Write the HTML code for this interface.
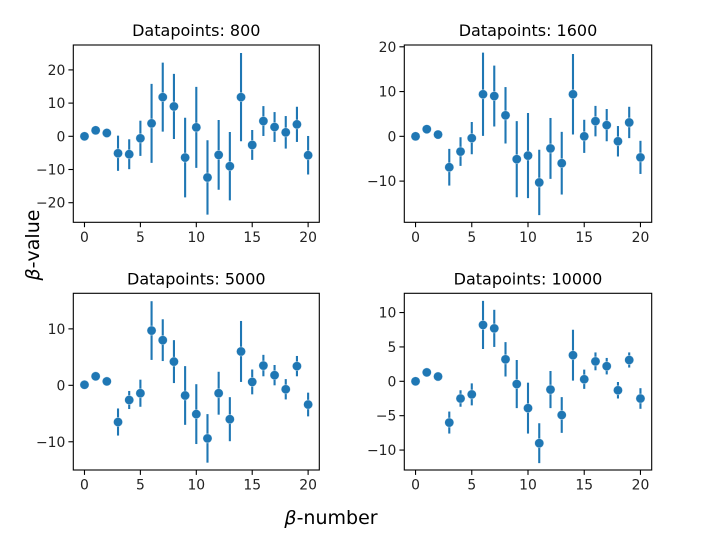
<!DOCTYPE html>
<html><head><meta charset="utf-8">
<style>
html,body{margin:0;padding:0;background:#fff;}
svg{display:block;font-family:"DejaVu Sans","Liberation Sans",sans-serif;}
</style></head>
<body>
<svg id="fig" width="701" height="535" viewBox="0 0 701 535" xmlns="http://www.w3.org/2000/svg">
<rect width="701" height="535" fill="#fff"/>
<text x="331" y="524" text-anchor="middle" font-size="19"><tspan font-style="italic">β</tspan>-number</text>
<text transform="translate(39,245) rotate(-90)" text-anchor="middle" font-size="19"><tspan font-style="italic">β</tspan>-value</text>
</svg>
<script>
const xIndex = [0,1,2,3,4,5,6,7,8,9,10,11,12,13,14,15,16,17,18,19,20];
const titles = ["Datapoints: 800","Datapoints: 1600","Datapoints: 5000","Datapoints: 10000"];
const vals800 = [0,1.8,1.0,-5.1,-5.4,-0.6,3.9,11.8,9.0,-6.4,2.7,-12.4,-5.6,-9.0,11.8,-2.6,4.6,2.8,1.2,3.6,-5.7];
const errs800 = [0,0,0,5.3,4.5,5.3,11.9,10.4,9.8,12.0,12.2,11.2,10.5,10.3,13.3,4.5,4.5,4.5,4.9,5.3,5.8];
const vals1600 = [0,1.6,0.4,-6.9,-3.4,-0.4,9.4,9.0,4.7,-5.1,-4.3,-10.3,-2.7,-6.0,9.4,0,3.4,2.5,-1.1,3.1,-4.7];
const errs1600 = [0,0,0,4.1,3.2,3.6,9.3,6.8,6.3,8.5,9.5,7.3,6.8,7.0,9.0,3.7,3.4,3.6,3.4,3.5,3.7];
const vals5000 = [0.1,1.6,0.7,-6.5,-2.6,-1.4,9.7,8.0,4.2,-1.8,-5.1,-9.4,-1.4,-6.0,6.0,0.6,3.5,1.8,-0.7,3.4,-3.4];
const errs5000 = [0,0,0,2.4,1.6,2.4,5.2,3.7,3.8,5.2,5.3,4.3,3.8,3.9,5.4,2.2,1.9,1.8,1.8,1.8,2.1];
const vals10000 = [0,1.3,0.7,-6.0,-2.5,-1.9,8.2,7.7,3.2,-0.4,-3.9,-9.0,-1.2,-4.9,3.8,0.3,2.9,2.2,-1.3,3.1,-2.5];
const errs10000 = [0,0,0,1.6,1.2,1.6,3.5,2.7,2.5,3.5,3.7,2.9,2.7,2.6,3.7,1.4,1.3,1.2,1.2,1.1,1.5];
const xTicks = [0,5,10,15,20];
const yTicks800 = [-20,-10,0,10,20];
const yTicks1600 = [-10,0,10,20];
const yTicks5000 = [-10,0,10];
const yTicks10000 = [-10,-5,0,5,10];

const NS="http://www.w3.org/2000/svg";
const svg=document.getElementById('fig');
function mk(tag,attrs,parent){const e=document.createElementNS(NS,tag);for(const k in attrs)e.setAttribute(k,attrs[k]);(parent||svg).appendChild(e);return e;}

const panels=[
 {l:73.3,r:319.3,t:45,b:222.3,ymin:-25.9,ymax:27.5,v:vals800,e:errs800,yt:yTicks800,name:'panel-800'},
 {l:404.3,r:651.7,t:45,b:222.3,ymin:-19.2,ymax:20.4,v:vals1600,e:errs1600,yt:yTicks1600,name:'panel-1600'},
 {l:73.3,r:319.3,t:293.3,b:470,ymin:-15.0,ymax:16.3,v:vals5000,e:errs5000,yt:yTicks5000,name:'panel-5000'},
 {l:404.3,r:651.7,t:293.3,b:470,ymin:-12.9,ymax:12.8,v:vals10000,e:errs10000,yt:yTicks10000,name:'panel-10000'}
];
panels.forEach((p,i)=>{
 const g=mk('g',{});
 
 
 const xmin=-1,xmax=21;
 const sx=x=>p.l+(x-xmin)/(xmax-xmin)*(p.r-p.l);
 const sy=y=>p.b-(y-p.ymin)/(p.ymax-p.ymin)*(p.b-p.t);
 const tt=mk('text',{x:(p.l+p.r)/2,y:p.t-9,'text-anchor':'middle','font-size':'16'},g);
 tt.textContent=titles[i];
 
 
 xTicks.forEach(t=>{
  const X=sx(t);
  mk('line',{x1:X,x2:X,y1:p.b,y2:p.b+4.9,stroke:'#000','stroke-width':1.1},g);
  const tx=mk('text',{x:X,y:p.b+19.5,'text-anchor':'middle','font-size':'13.9',fill:'#222'},g);
  tx.textContent=String(t);
  
  
 });
 p.yt.forEach(t=>{
  const Y=sy(t);
  mk('line',{x1:p.l-4.9,x2:p.l,y1:Y,y2:Y,stroke:'#000','stroke-width':1.1},g);
  const ty=mk('text',{x:p.l-8,y:Y+5,'text-anchor':'end','font-size':'13.9',fill:'#222'},g);
  ty.textContent=(t<0?'\u2212'+Math.abs(t):String(t));
  
  
 });
 xIndex.forEach((x,j)=>{
  const X=sx(x);
  if(p.e[j]>0){
   const eb=mk('line',{x1:X,x2:X,y1:sy(p.v[j]-p.e[j]),y2:sy(p.v[j]+p.e[j]),stroke:'#1f77b4','stroke-width':2.1},g);
   
   
  }
  const c=mk('circle',{cx:X,cy:sy(p.v[j]),r:4.6,fill:'#1f77b4',stroke:'#fff','stroke-width':0.6,'stroke-opacity':0.6},g);
  
  
 });
 mk('rect',{x:p.l,y:p.t,width:p.r-p.l,height:p.b-p.t,fill:'none',stroke:'#000','stroke-width':1.1},g);
});
</script>
</body></html>
